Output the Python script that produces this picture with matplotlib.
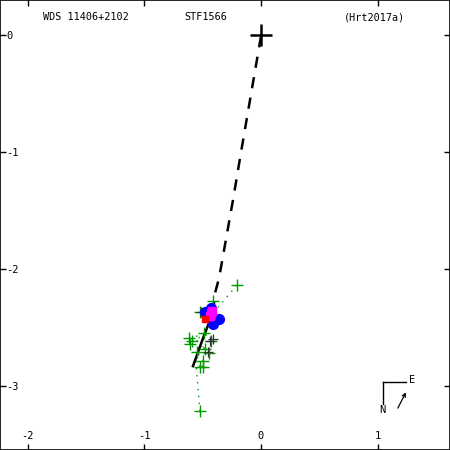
import matplotlib
matplotlib.use("Agg")
import matplotlib.pyplot as plt

plt.rcParams["font.family"] = "DejaVu Sans Mono"
plt.rcParams["axes.unicode_minus"] = False

# orbit trace (dashed part, then observed solid arc)
orbit_dash_x = [0.0, -0.171, -0.240, -0.360, -0.394, -0.411]
orbit_dash_y = [-0.01, -1.00, -1.41, -2.08, -2.205, -2.37]
orbit_solid_x = [-0.411, -0.500, -0.583]
orbit_solid_y = [-2.37, -2.60, -2.83]

# micrometer / other observations (green)
green_x = [-0.208, -0.409, -0.523, -0.614, -0.589, -0.608, -0.428, -0.488,
           -0.480, -0.546, -0.443, -0.494, -0.523, -0.500, -0.523]
green_y = [-2.139, -2.274, -2.370, -2.592, -2.613, -2.644, -2.615, -2.550,
           -2.686, -2.712, -2.715, -2.786, -2.835, -2.835, -3.214]
# predicted positions on the orbit for the O-C lines
green_px = [-0.405, -0.395, -0.420, -0.470, -0.475, -0.480, -0.470, -0.450,
            -0.500, -0.505, -0.505, -0.535, -0.560, -0.560, -0.560]
green_py = [-2.37, -2.28, -2.38, -2.55, -2.56, -2.58, -2.56, -2.52,
            -2.63, -2.66, -2.66, -2.73, -2.78, -2.78, -2.78]

# speckle observations (blue)
blue_x = [-0.480, -0.431, -0.360, -0.414, -0.462]
blue_y = [-2.365, -2.336, -2.427, -2.473, -2.380]

# interferometric (magenta) and red
mag_x = [-0.428, -0.440, -0.418]
mag_y = [-2.376, -2.400, -2.360]
red_x = [-0.482]
red_y = [-2.425]

# lower weight observations (black)
blk_x = [-0.514, -0.437, -0.454, -0.410]
blk_y = [-2.368, -2.615, -2.709, -2.600]

fig = plt.figure(figsize=(4.5, 4.5), dpi=100)
ax = fig.add_axes([0, 0, 1, 1])

for gx, gy, px, py in zip(green_x, green_y, green_px, green_py):
    ax.plot([gx, px], [gy, py], color="#009900", lw=1.0, ls=(0, (1, 4)))

ax.plot(orbit_dash_x, orbit_dash_y, color="black", lw=1.8, ls=(0, (4.5, 3.8)))
ax.plot(orbit_solid_x, orbit_solid_y, color="black", lw=1.8)

ax.plot(green_x, green_y, ls="none", marker="+", ms=8, mew=1.0, color="#009900")
ax.plot(blk_x, blk_y, ls="none", marker="+", ms=7, mew=0.9, color="#333333")
ax.plot(blue_x, blue_y, ls="none", marker="o", ms=7, color="#0000ff")
ax.plot(mag_x, mag_y, ls="none", marker="s", ms=5.5, color="#ff00ff")
ax.plot(red_x, red_y, ls="none", marker="s", ms=4, color="#ff0000")

# primary star
ax.plot([0], [0], ls="none", marker="+", ms=16, mew=1.8, color="black")

ax.set_xlim(-2.237, 1.62)
ax.set_ylim(-3.547, 0.30)

ax.set_xticks([-2, -1, 0, 1])
ax.set_yticks([0, -1, -2, -3])
ax.tick_params(direction="in", top=True, right=True, length=4, width=1,
               labelsize=7.5, pad=-14)
ax.tick_params(axis="y", pad=-4.5)
for lab in ax.get_yticklabels():
    lab.set_horizontalalignment("left")
ax.tick_params(labeltop=False, labelright=False)
for sp in ax.spines.values():
    sp.set_linewidth(1.2)

ax.text(0.19, 0.962, "WDS 11406+2102", transform=ax.transAxes, fontsize=7.3,
        ha="center", va="center")
ax.text(0.458, 0.962, "STF1566", transform=ax.transAxes, fontsize=7.3,
        ha="center", va="center")
ax.text(0.833, 0.962, "(Hrt2017a)", transform=ax.transAxes, fontsize=7.3,
        ha="center", va="center")

# compass
ax.plot([0.851, 0.902], [0.151, 0.151], color="black", lw=1, transform=ax.transAxes)
ax.plot([0.851, 0.851], [0.151, 0.102], color="black", lw=1, transform=ax.transAxes)
ax.text(0.915, 0.155, "E", transform=ax.transAxes, fontsize=7.5, ha="center", va="center")
ax.text(0.849, 0.088, "N", transform=ax.transAxes, fontsize=7.5, ha="center", va="center")
ax.annotate("", xy=(0.902, 0.128), xytext=(0.884, 0.093), xycoords="axes fraction",
            arrowprops=dict(arrowstyle="->", lw=0.9, color="black",
                            mutation_scale=6, shrinkA=0, shrinkB=0))

fig.savefig("out.png", dpi=100)
